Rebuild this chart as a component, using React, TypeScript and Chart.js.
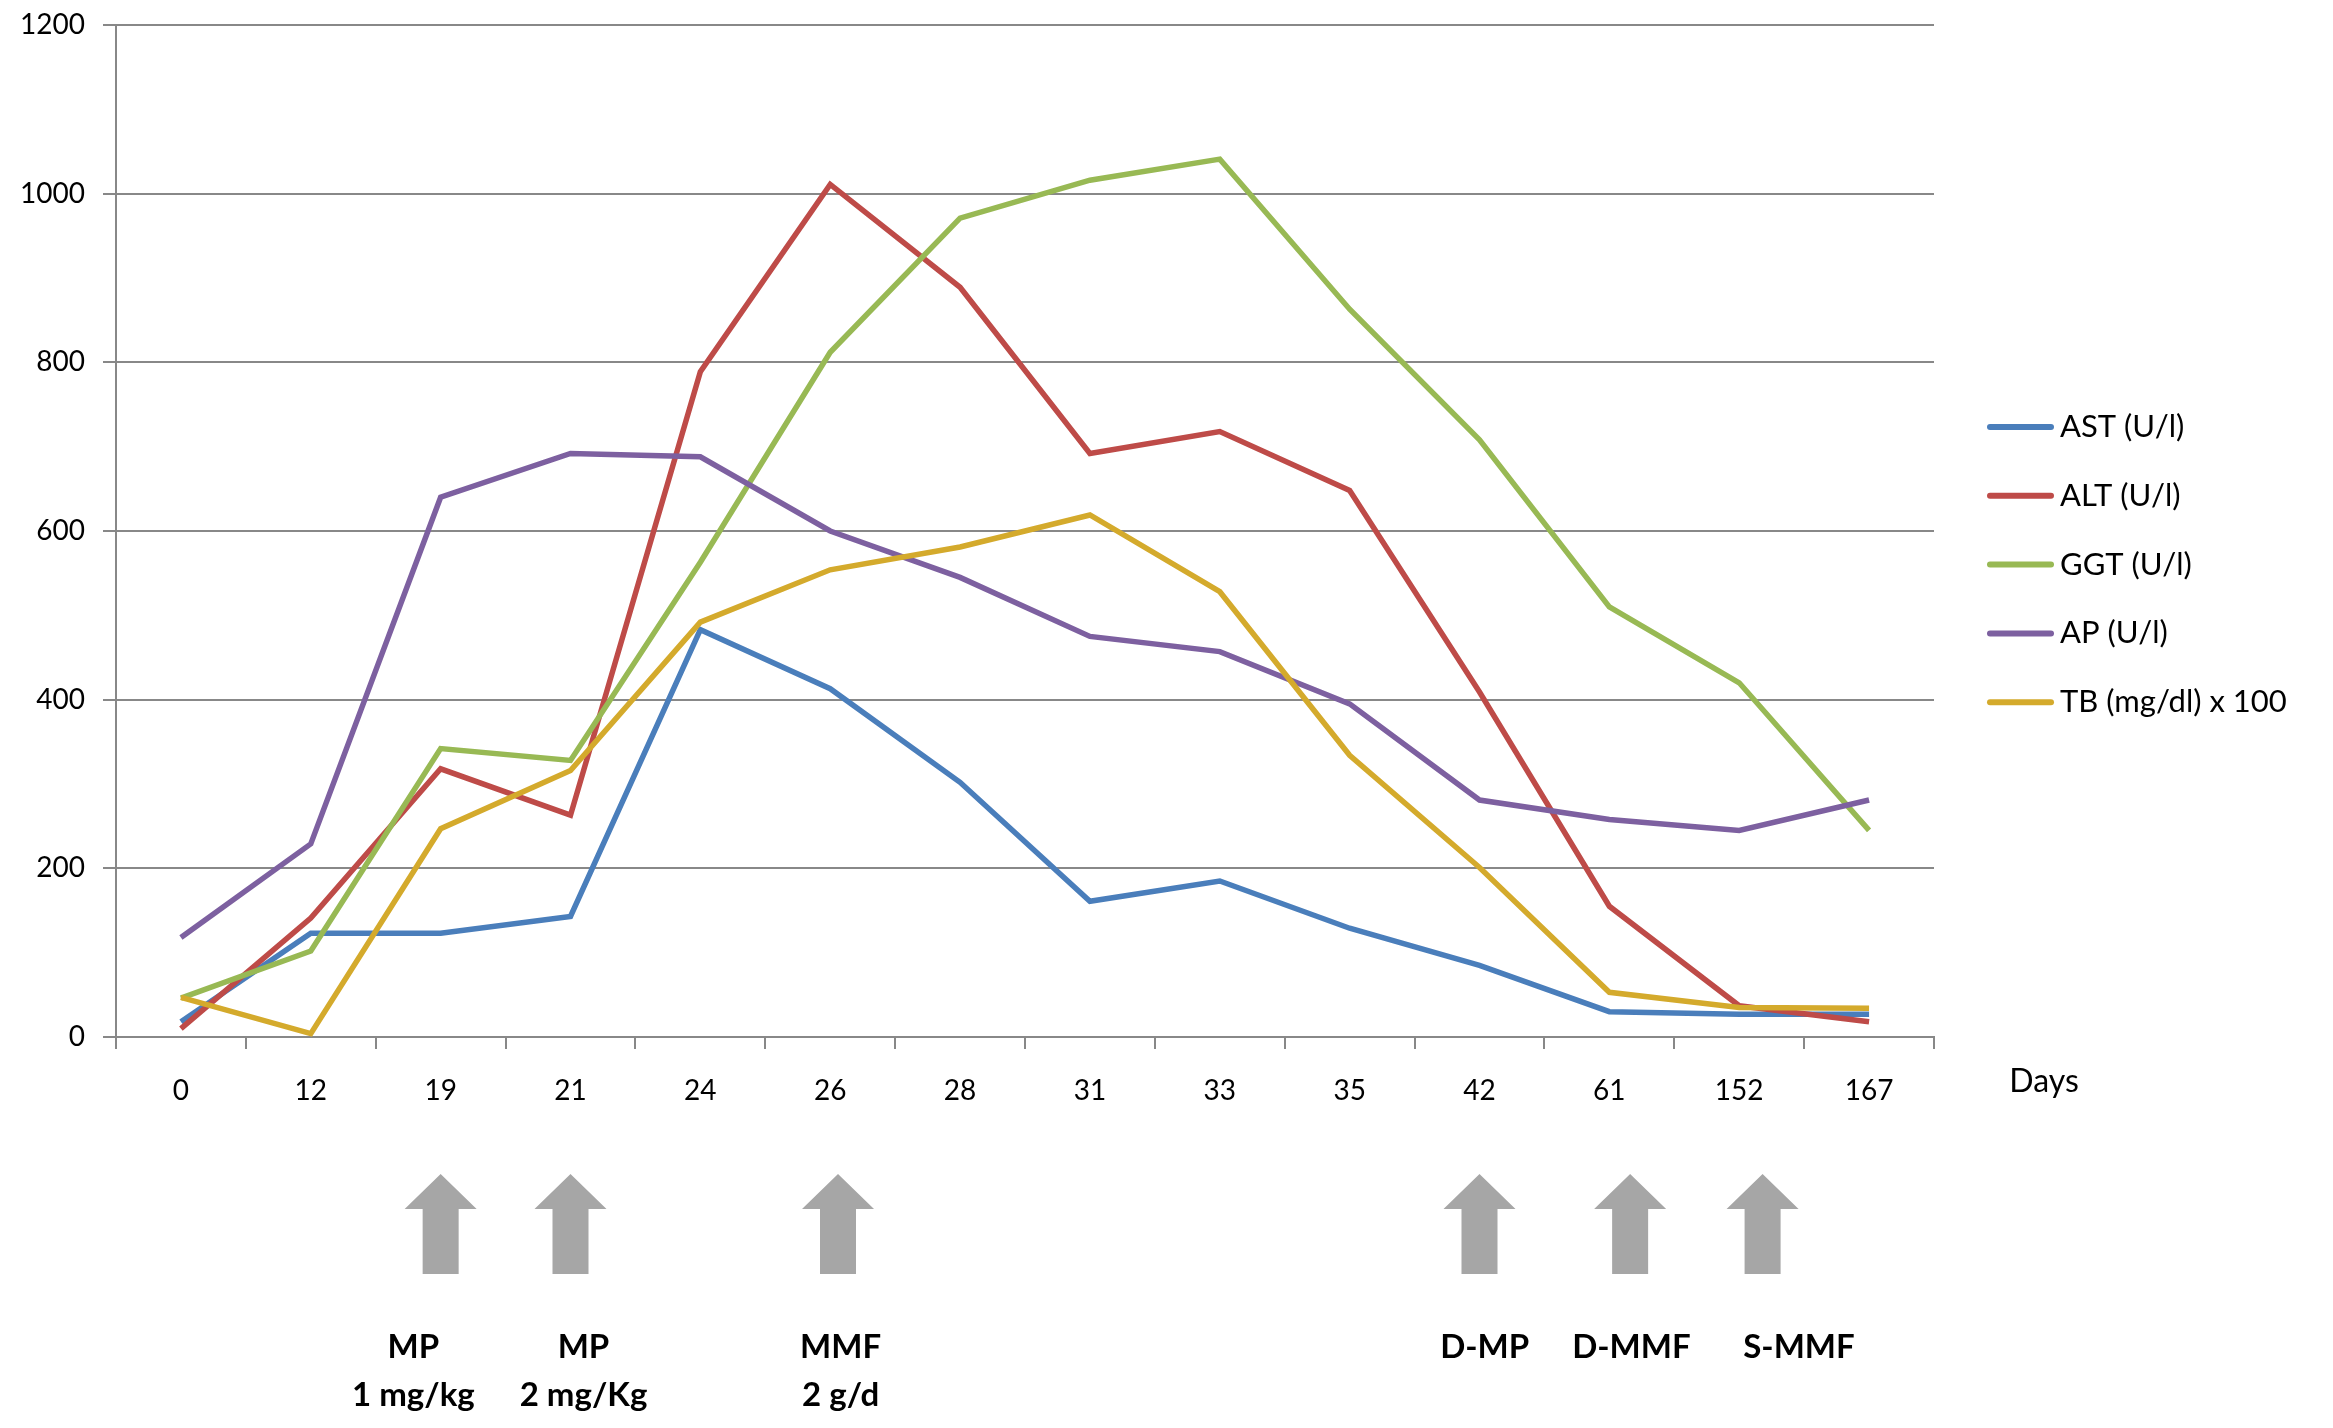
import React, { useEffect, useRef } from 'react';
import Chart from 'chart.js/auto';

// x categories (days since onset)
const days = ['0', '12', '19', '21', '24', '26', '28', '31', '33', '35', '42', '61', '152', '167'];

// series values
const ast = [18, 123, 123, 143, 483, 413, 302, 161, 185, 129, 85, 30, 27, 27];
const alt = [10, 141, 318, 263, 789, 1011, 889, 692, 718, 648, 409, 155, 37, 18];
const ggt = [46, 102, 342, 328, 563, 812, 971, 1016, 1041, 863, 708, 510, 420, 245];
const ap = [118, 229, 640, 692, 688, 600, 545, 475, 457, 395, 281, 258, 245, 281];
const tb = [47, 4, 247, 316, 492, 554, 581, 619, 528, 334, 201, 53, 35, 34];

const seriesLabels = ['AST (U/l)', 'ALT (U/l)', 'GGT (U/l)', 'AP (U/l)', 'TB (mg/dl) x 100'];
const seriesColors = ['#4a7ebb', '#be4b48', '#98b954', '#7d60a0', '#d4aa2c'];

// treatment events marked under the axis
const eventDays = ['19', '21', '26', '42', '61', '152'];
const eventLabels = [['MP', '1 mg/kg'], ['MP', '2 mg/Kg'], ['MMF', '2 g/d'], ['D-MP'], ['D-MMF'], ['S-MMF']];

// hand placement in the original, in category units
const arrowNudge = [0, 0, 0.06, 0, 0.16, 0.18];
const labelNudge = [-0.21, 0.1, 0.08, 0.04, 0.17, 0.46];

const FONT = 'Lato';
const GRID = '#888888';

const overlayPlugin = {
  id: 'overlay',
  afterDraw(chart: any) {
    const { ctx, chartArea, scales } = chart;
    const xs = scales.x;
    ctx.save();

    // legend
    ctx.font = `31px ${FONT}`;
    ctx.textAlign = 'left';
    ctx.textBaseline = 'middle';
    chart.data.datasets.forEach((ds: any, i: number) => {
      const y = 427 + i * 68.8;
      ctx.strokeStyle = ds.borderColor;
      ctx.lineWidth = 6;
      ctx.lineCap = 'round';
      ctx.beginPath();
      ctx.moveTo(chartArea.right + 56, y);
      ctx.lineTo(chartArea.right + 117, y);
      ctx.stroke();
      ctx.fillStyle = '#000';
      ctx.fillText(ds.label, chartArea.right + 126, y);
    });

    // axis title
    ctx.font = `32px ${FONT}`;
    ctx.textAlign = 'center';
    ctx.fillText('Days', chartArea.right + 110, chartArea.bottom + 45);

    // arrows + labels
    const top = chartArea.bottom + 137;
    const headBase = chartArea.bottom + 172;
    const bottom = chartArea.bottom + 237;
    eventDays.forEach((d, i) => {
      const idx = days.indexOf(d);
      const cx = xs.getPixelForValue(idx + arrowNudge[i]);
      ctx.fillStyle = '#a6a6a6';
      ctx.beginPath();
      ctx.moveTo(cx, top);
      ctx.lineTo(cx + 36, headBase);
      ctx.lineTo(cx + 18, headBase);
      ctx.lineTo(cx + 18, bottom);
      ctx.lineTo(cx - 18, bottom);
      ctx.lineTo(cx - 18, headBase);
      ctx.lineTo(cx - 36, headBase);
      ctx.closePath();
      ctx.fill();

      const lx = xs.getPixelForValue(idx + labelNudge[i]);
      ctx.fillStyle = '#000';
      ctx.font = `bold 33px ${FONT}`;
      eventLabels[i].forEach((line, j) => {
        ctx.fillText(line, lx, chartArea.bottom + 310 + j * 48);
      });
    });

    ctx.restore();
  },
};

const App: React.FC = () => {
  const canvasRef = useRef<HTMLCanvasElement>(null);
  const chartRef = useRef<Chart | null>(null);

  useEffect(() => {
    document.body.style.margin = '0';
    if (!canvasRef.current) return;
    if (chartRef.current) chartRef.current.destroy();

    const series = [ast, alt, ggt, ap, tb];

    chartRef.current = new Chart(canvasRef.current, {
      type: 'line',
      data: {
        labels: days,
        datasets: series.map((values, i) => ({
          label: seriesLabels[i],
          data: values,
          borderColor: seriesColors[i],
          backgroundColor: seriesColors[i],
          borderWidth: 5.5,
          pointRadius: 0,
          tension: 0,
          fill: false,
          order: series.length - i,
        })),
      },
      options: {
        responsive: true,
        maintainAspectRatio: false,
        animation: false,
        layout: { padding: { top: 25, right: 399, left: 0, bottom: 0 } },
        font: { family: FONT },
        scales: {
          x: {
            type: 'category',
            offset: true,
            afterFit: (scale: any) => {
              scale.height = 391;
            },
            grid: {
              display: true,
              offset: true,
              drawOnChartArea: false,
              drawTicks: true,
              tickLength: 12,
              color: GRID,
              lineWidth: 2,
            },
            border: { display: true, color: GRID, width: 2 },
            ticks: {
              color: '#000',
              padding: 25,
              maxRotation: 0,
              autoSkip: false,
              font: { family: FONT, size: 28 },
            },
          },
          y: {
            min: 0,
            max: 1200,
            afterFit: (scale: any) => {
              scale.width = 116;
              scale.paddingTop = 0;
              scale.paddingBottom = 0;
            },
            grid: {
              color: GRID,
              lineWidth: 2,
              tickLength: 13,
              drawTicks: true,
            },
            border: { display: true, color: GRID, width: 2 },
            ticks: {
              stepSize: 200,
              color: '#000',
              padding: 18,
              font: { family: FONT, size: 28 },
              callback: (value: any) => String(value),
            },
          },
        },
        plugins: {
          legend: { display: false },
          tooltip: { enabled: false },
          title: { display: false },
        },
      },
      plugins: [overlayPlugin],
    });

    return () => {
      if (chartRef.current) {
        chartRef.current.destroy();
        chartRef.current = null;
      }
    };
  }, []);

  return (
    <div style={{ position: 'relative', width: '2333px', height: '1428px', background: '#fff' }}>
      <canvas ref={canvasRef}></canvas>
    </div>
  );
};

export default App;
